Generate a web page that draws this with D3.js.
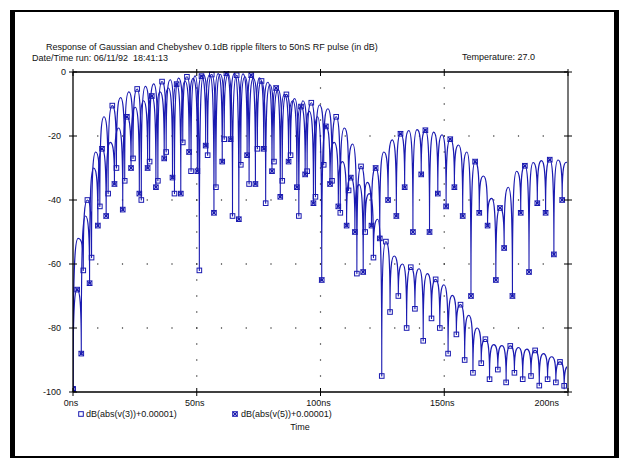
<!DOCTYPE html>
<html>
<head>
<meta charset="utf-8">
<script src="https://cdn.jsdelivr.net/npm/d3@7"></script>
<style>
  body { margin: 0; background: #fff; }
  svg text { font-family: "Liberation Sans", Arial, sans-serif; font-size: 9px; fill: #111; }
</style>
</head>
<body>
<svg id="chart" width="621" height="469"></svg>
<script>
// axis ticks
const timeTicks = [0, 50, 100, 150, 200];
const timeTickLabels = ["0ns", "50ns", "100ns", "150ns", "200ns"];
const dbTicks = [0, -20, -40, -60, -80, -100];
const dbTickLabels = ["0", "-20", "-40", "-60", "-80", "-100"];

// v(3): nulls of the rectified RF envelope (time ns, dB) and the arch tops between them
const v3NullTimes = [0, 4.15, 7.5, 10.85, 14.2, 17.55, 20.9, 24.25, 27.6, 30.95, 34.3, 37.65, 41.0, 44.35, 47.7, 51.05,
  54.4, 57.75, 61.1, 64.45, 67.8, 71.15, 74.5, 77.85, 81.2, 84.55, 87.9, 91.25, 94.6, 97.95, 101.3, 104.65, 108.0,
  111.35, 114.7, 118.05, 121.4, 124.75, 128.1, 131.45, 134.8, 138.15, 141.5, 144.85, 148.2, 151.55, 154.9, 158.25,
  161.6, 164.95, 168.3, 171.65, 175.0, 178.35, 181.7, 185.05, 188.4, 191.75, 195.1, 198.45, 201.8];
const v3NullDb = [-100, -62, -58, -42, -38, -30, -34, -27, -40, -28, -34, -25, -38, -22, -31, -62, -26, -36, -21, -45,
  -29, -35, -24, -41, -28, -34, -26, -45, -31, -39, -29, -34, -44, -37, -63, -50, -58, -95, -75, -70, -80, -74, -84,
  -77, -80, -88, -82, -90, -94, -91, -96, -93, -97, -94, -96, -95, -98, -96, -97, -99, -98];
const v3PeakDb = [-52, -40, -25, -14, -10.5, -8, -6.2, -5.3, -4.5, -3.7, -3.0, -2.4, -1.9, -1.5, -1.2, -0.9, -0.8,
  -0.7, -0.8, -1.0, -1.5, -2.0, -2.8, -4.0, -5.5, -7.0, -8.3, -9.0, -9.6, -10.3, -11.5, -14, -17.5, -22.5, -29.5, -38,
  -46, -53, -57.5, -60, -61, -61.5, -63, -64.8, -66.5, -69.8, -72.7, -76, -80, -83.5, -85.2, -85.5, -85.6, -86.1,
  -86.6, -87, -88, -89, -90.6, -92];

// v(5)
const v5NullTimes = [0, 3.35, 6.7, 10.05, 13.4, 16.75, 20.1, 23.45, 26.8, 30.15, 33.5, 36.85, 40.2, 43.55, 46.9, 50.25,
  53.6, 56.95, 60.3, 63.65, 67.0, 70.35, 73.7, 77.05, 80.4, 83.75, 87.1, 90.45, 93.8, 97.15, 100.5, 103.85, 107.2,
  110.55, 113.9, 117.25, 120.6, 123.95, 127.3, 130.65, 134.0, 137.35, 140.7, 144.05, 147.4, 150.75, 154.1, 157.45,
  160.8, 164.15, 167.5, 170.85, 174.2, 177.55, 180.9, 184.25, 187.6, 190.95, 194.3, 197.65, 201.0];
const v5NullDb = [-100, -88, -66, -48, -45, -35, -43, -30, -38, -30, -36, -27, -33, -38, -25, -31, -23, -44, -28, -21,
  -46, -26, -35, -24, -31, -39, -28, -36, -32, -41, -65, -35, -42, -48, -50, -62.5, -48, -52, -40, -45, -36, -50, -32,
  -50, -38, -42, -36, -45, -70, -44, -48, -65, -55, -70, -44, -62.5, -41, -44, -57, -40, -45];
const v5PeakDb = [-68, -45, -30, -24, -22, -17.5, -14, -11, -9, -7.5, -6.2, -5.0, -3.8, -2.8, -2.0, -1.3, -0.8, -0.5,
  -0.4, -0.4, -0.6, -1.0, -1.8, -3.2, -5.0, -7.0, -9.0, -10.8, -12.3, -14.0, -17, -22, -28, -33, -35.2, -34.5, -30,
  -25, -21.2, -19.3, -18.3, -18.0, -18.2, -18.8, -19.6, -21, -22.8, -25, -28, -32.5, -39.5, -42.5, -36, -31, -29.3,
  -28.3, -27.7, -27.4, -27.5, -28.2];

const legendLabels = ["dB(abs(v(3))+0.00001)", "dB(abs(v(5))+0.00001)"];

const blue = "#1a1ab0";
const svg = d3.select("#chart");
const plotLeft = 73, plotRight = 568, plotTop = 72, plotBottom = 392;

const x = d3.scaleLinear().domain([0, 200]).range([plotLeft, plotRight]);
const y = d3.scaleLinear().domain([-100, 0]).range([plotBottom, plotTop]);

// page frame
svg.append("rect").attr("x", 10).attr("y", 10).attr("width", 5).attr("height", 448).attr("fill", "#000");
svg.append("rect").attr("x", 614).attr("y", 10).attr("width", 5).attr("height", 448).attr("fill", "#000");
svg.append("rect").attr("x", 10).attr("y", 10).attr("width", 609).attr("height", 2).attr("fill", "#000");
svg.append("rect").attr("x", 10).attr("y", 456).attr("width", 609).attr("height", 2).attr("fill", "#000");

// header
svg.append("text").attr("x", 46).attr("y", 50).text("Response of Gaussian and Chebyshev 0.1dB ripple filters to 50nS RF pulse (in dB)");
svg.append("text").attr("x", 32).attr("y", 61).attr("xml:space", "preserve").text("Date/Time run: 06/11/92  18:41:13");
svg.append("text").attr("x", 462).attr("y", 60).text("Temperature: 27.0");

// dotted grid
const dots = svg.append("g").attr("fill", "#222");
[50, 100, 150].forEach(t => {
  d3.range(-95, 0, 5).forEach(v => {
    dots.append("rect").attr("x", x(t) - 0.6).attr("y", y(v) - 0.6).attr("width", 1.2).attr("height", 1.2);
  });
});
[-20, -40, -60, -80].forEach(v => {
  d3.range(10, 200, 10).forEach(t => {
    dots.append("rect").attr("x", x(t) - 0.6).attr("y", y(v) - 0.6).attr("width", 1.2).attr("height", 1.2);
  });
});

// curve: steep sides at the nulls, rounded tops
function curveArch(context) {
  let px, py, n;
  return {
    areaStart() {}, areaEnd() {},
    lineStart() { n = 0; },
    lineEnd() {},
    point(x1, y1) {
      x1 = +x1; y1 = +y1;
      if (n++ === 0) context.moveTo(x1, y1);
      else {
        const dx = x1 - px;
        if (y1 < py) context.bezierCurveTo(px, py + 0.8 * (y1 - py), px + 0.3 * dx, y1, x1, y1);
        else context.bezierCurveTo(x1 - 0.3 * dx, py, x1, y1 - 0.8 * (y1 - py), x1, y1);
      }
      px = x1; py = y1;
    }
  };
}

function tracePoints(times, nulls, peaks) {
  const pts = [];
  times.forEach((t, i) => {
    pts.push({ t: t, v: nulls[i], kind: "null", i: i });
    if (i < peaks.length) pts.push({ t: (t + times[i + 1]) / 2, v: peaks[i], kind: "peak", i: i });
  });
  return pts;
}

const v3 = tracePoints(v3NullTimes, v3NullDb, v3PeakDb);
const v5 = tracePoints(v5NullTimes, v5NullDb, v5PeakDb);

svg.append("clipPath").attr("id", "plot").append("rect")
  .attr("x", plotLeft).attr("y", plotTop - 1).attr("width", plotRight - plotLeft).attr("height", plotBottom - plotTop + 2);

const line = d3.line().x(d => x(d.t)).y(d => y(d.v)).curve(curveArch);
const traces = svg.append("g").attr("clip-path", "url(#plot)");
[v3, v5].forEach(pts => {
  traces.append("path").attr("d", line(pts)).attr("fill", "none")
    .attr("stroke", blue).attr("stroke-width", 1.1).attr("stroke-linejoin", "round");
});

function squareMark(g, cx, cy) {
  g.append("rect").attr("x", cx - 2.3).attr("y", cy - 2.3).attr("width", 4.6).attr("height", 4.6)
    .attr("fill", "none").attr("stroke", blue).attr("stroke-width", 1);
}
function crossMark(g, cx, cy) {
  squareMark(g, cx, cy);
  g.append("path").attr("d", `M${cx - 2.3},${cy - 2.3}L${cx + 2.3},${cy + 2.3}M${cx + 2.3},${cy - 2.3}L${cx - 2.3},${cy + 2.3}`)
    .attr("stroke", blue).attr("stroke-width", 1);
  g.append("rect").attr("x", cx - 1.3).attr("y", cy - 1.3).attr("width", 2.6).attr("height", 2.6).attr("fill", blue);
}

const marks = svg.append("g").attr("clip-path", "url(#plot)");
v3.filter(d => d.kind === "null" || d.i % 3 === 1).forEach(d => squareMark(marks, x(d.t), y(d.v) - (d.v <= -99 ? 3 : 0)));
v5.filter(d => d.kind === "null" || d.i % 3 === 0).forEach(d => crossMark(marks, x(d.t), y(d.v) - (d.v <= -99 ? 3 : 0)));

// axes frame
const axes = svg.append("g").attr("stroke", "#000");
axes.append("line").attr("x1", plotLeft).attr("x2", plotRight).attr("y1", plotTop).attr("y2", plotTop).attr("stroke-width", 1.3);
axes.append("line").attr("x1", plotLeft).attr("x2", plotRight).attr("y1", plotBottom).attr("y2", plotBottom).attr("stroke-width", 1.3);
axes.append("line").attr("x1", plotLeft).attr("x2", plotLeft).attr("y1", plotTop).attr("y2", plotBottom).attr("stroke-width", 1.3);
axes.append("line").attr("x1", plotRight).attr("x2", plotRight).attr("y1", plotTop).attr("y2", plotBottom)
  .attr("stroke", "#777").attr("stroke-width", 2);

// ticks
dbTicks.forEach(v => {
  axes.append("line").attr("x1", plotLeft - 4).attr("x2", plotLeft + 4).attr("y1", y(v)).attr("y2", y(v));
  axes.append("line").attr("x1", plotRight - 4).attr("x2", plotRight + 4).attr("y1", y(v)).attr("y2", y(v));
});
timeTicks.forEach(t => {
  axes.append("line").attr("x1", x(t)).attr("x2", x(t)).attr("y1", plotBottom - 4).attr("y2", plotBottom + 4);
  axes.append("line").attr("x1", x(t)).attr("x2", x(t)).attr("y1", plotTop - 3).attr("y2", plotTop + 4);
});

// tick labels
dbTicks.forEach((v, i) => {
  svg.append("text").attr("x", v === 0 ? 66 : 61).attr("y", y(v) + 3.2).attr("text-anchor", "end").text(dbTickLabels[i]);
});
timeTicks.forEach((t, i) => {
  const last = i === timeTicks.length - 1;
  svg.append("text").attr("x", last ? 559 : x(t) - 2).attr("y", 406)
    .attr("text-anchor", last ? "end" : "middle").text(timeTickLabels[i]);
});

// legend
const lg = svg.append("g");
squareMark(lg, 81, 414);
lg.append("text").attr("x", 86).attr("y", 417).text(legendLabels[0]);
crossMark(lg, 235, 414);
lg.append("text").attr("x", 241).attr("y", 417).text(legendLabels[1]);
svg.append("text").attr("x", 300).attr("y", 430).attr("text-anchor", "middle").text("Time");
</script>
</body>
</html>
